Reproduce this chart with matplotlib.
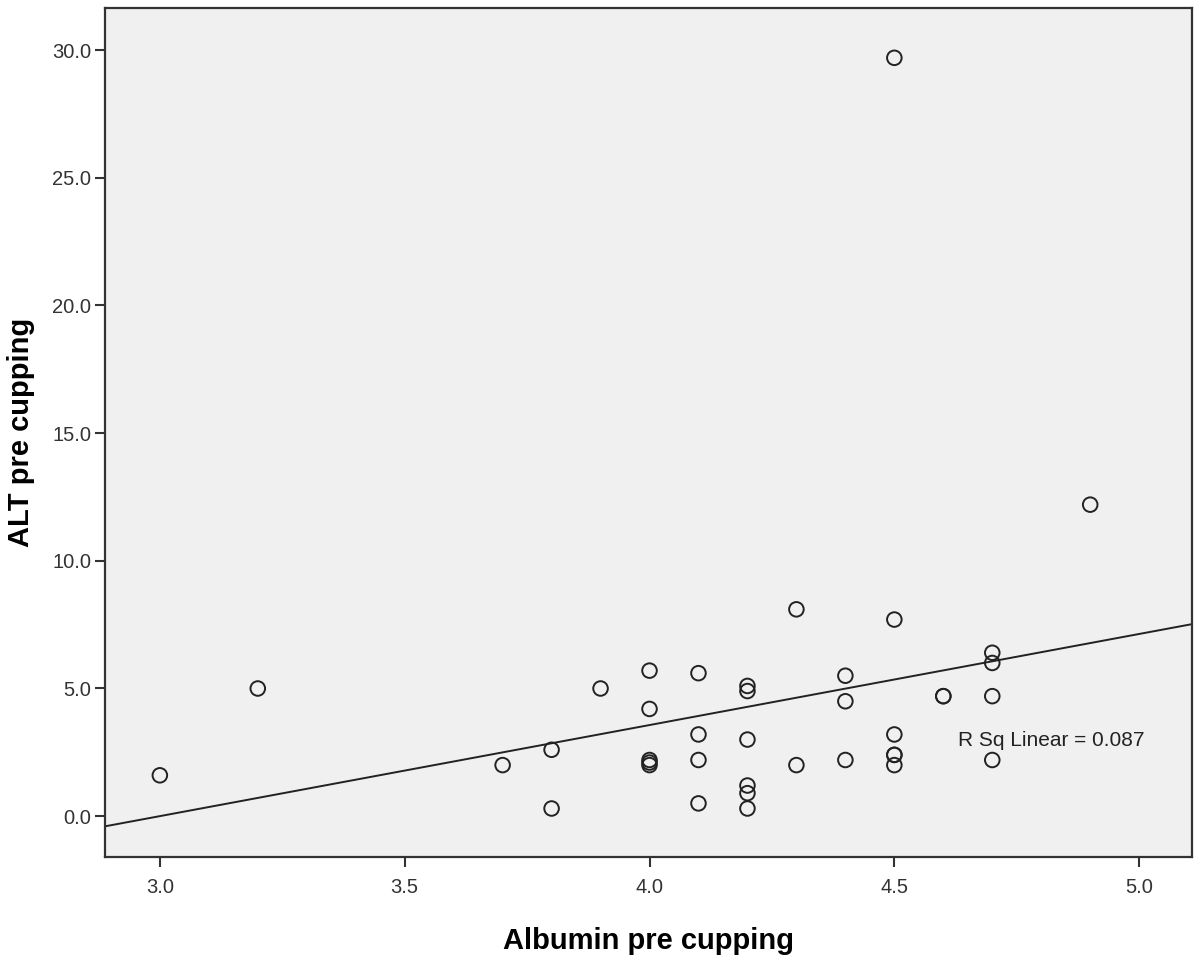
import numpy as np
import matplotlib
matplotlib.use("Agg")
import matplotlib.pyplot as plt

plt.rcParams['font.family'] = ['Liberation Sans', 'DejaVu Sans']

albumin = [3.0, 3.2, 3.7, 3.8, 3.8, 3.9, 4.0, 4.0, 4.0, 4.0, 4.0,
           4.1, 4.1, 4.1, 4.1, 4.2, 4.2, 4.2, 4.2, 4.2, 4.2,
           4.3, 4.3, 4.4, 4.4, 4.4, 4.5, 4.5, 4.5, 4.5, 4.5, 4.5,
           4.6, 4.6, 4.7, 4.7, 4.7, 4.7, 4.9]
alt = [1.6, 5.0, 2.0, 2.6, 0.3, 5.0, 5.7, 4.2, 2.2, 2.1, 2.0,
       5.6, 3.2, 2.2, 0.5, 5.1, 4.9, 3.0, 1.2, 0.9, 0.3,
       8.1, 2.0, 5.5, 4.5, 2.2, 29.7, 7.7, 3.2, 2.4, 2.4, 2.0,
       4.7, 4.7, 6.4, 6.0, 4.7, 2.2, 12.2]
x_ticks = [3.0, 3.5, 4.0, 4.5, 5.0]
y_ticks = [0.0, 5.0, 10.0, 15.0, 20.0, 25.0, 30.0]
r2_label = "R Sq Linear = 0.087"

x = np.array(albumin)
y = np.array(alt)
slope, intercept = np.polyfit(x, y, 1)

fig = plt.figure(figsize=(11.96, 9.55), dpi=100)
ax = fig.add_axes([0.0878, 0.1026, 0.9089, 0.889])
ax.set_facecolor('#F0F0F0')

xlim = (2.888, 5.108)
ylim = (-1.6, 31.65)
ax.set_xlim(*xlim)
ax.set_ylim(*ylim)

ax.scatter(x, y, s=110, facecolors='none', edgecolors='#222222', linewidths=1.4, zorder=3)
xx = np.array(xlim)
ax.plot(xx, intercept + slope * xx, color='#222222', lw=1.4, zorder=2)

ax.set_xticks(x_ticks)
ax.set_xticklabels([f"{v:.1f}" for v in x_ticks])
ax.set_yticks(y_ticks)
ax.set_yticklabels([f"{v:.1f}" for v in y_ticks])
ax.tick_params(direction='out', length=7, width=1.5, labelsize=14.5, colors='#333333', pad=3)
ax.tick_params(axis='x', pad=8)
for sp in ax.spines.values():
    sp.set_linewidth(1.6)
    sp.set_color('#333333')

ax.text(4.63, 2.98, r2_label, fontsize=15, color='#222222', ha='left', va='center')

ax.set_xlabel("Albumin pre cupping", fontsize=21, fontweight='bold', labelpad=22)
ax.set_ylabel("ALT pre cupping", fontsize=21, fontweight='bold', labelpad=12)

fig.savefig("out.png", dpi=100)
